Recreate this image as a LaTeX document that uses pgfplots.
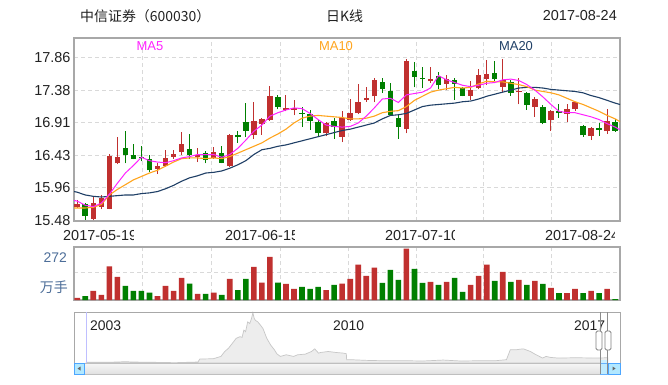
\documentclass[border=0pt]{standalone}
\usepackage{pgfplots}
\pgfplotsset{compat=1.18}
\usepackage{pgfplotstable}
\usepackage{fontspec}
\setmainfont{Liberation Sans}
\newfontfamily\cjk{Noto Sans CJK SC}
\definecolor{cRed}{HTML}{C0302F}
\definecolor{cGreen}{HTML}{007F00}
\definecolor{ma5c}{HTML}{FF22FF}
\definecolor{ma10c}{HTML}{FFA51E}
\definecolor{ma20c}{HTML}{1F3F66}
\definecolor{gridc}{HTML}{D9D9D9}
\definecolor{framec}{HTML}{A8A8A8}
\definecolor{volc}{HTML}{4D6E99}
\definecolor{txt}{HTML}{222222}

\pgfplotstableread{
x o h l c
0 15.67 15.77 15.66 15.72
2 15.50 15.84 15.48 15.73
3 15.68 15.85 15.64 15.80
4 15.65 16.45 15.64 16.42
5 16.31 16.70 16.30 16.41
10 16.23 16.32 16.16 16.27
11 16.27 16.50 16.26 16.39
12 16.41 16.50 16.38 16.45
13 16.48 16.77 16.44 16.60
15 16.41 16.53 16.33 16.44
17 16.39 16.55 16.38 16.47
19 16.27 16.74 16.26 16.73
22 16.72 17.21 16.67 16.93
23 16.89 16.98 16.73 16.96
24 16.95 17.44 16.93 17.30
26 17.09 17.31 17.07 17.12
27 17.09 17.23 17.01 17.12
31 16.75 16.92 16.71 16.90
33 16.70 17.08 16.62 16.98
34 16.95 17.25 16.93 17.04
35 17.04 17.47 17.03 17.20
36 17.23 17.43 17.21 17.27
37 17.29 17.56 17.20 17.53
41 16.81 17.83 16.75 17.81
44 17.51 17.72 17.49 17.54
46 17.47 17.60 17.38 17.54
49 17.30 17.51 17.24 17.38
50 17.41 17.69 17.39 17.60
51 17.54 17.82 17.46 17.62
53 17.43 17.83 17.35 17.53
55 17.35 17.55 17.17 17.37
57 17.13 17.28 16.99 17.25
59 16.94 17.09 16.79 17.08
61 17.03 17.17 16.92 17.11
62 17.10 17.21 17.08 17.20
64 16.71 16.84 16.65 16.83
66 16.78 17.11 16.74 16.93
}\upT

\pgfplotstableread{
x o h l c
1 15.72 15.73 15.49 15.54
6 16.54 16.79 16.31 16.44
7 16.44 16.59 16.37 16.38
8 16.41 16.57 16.34 16.40
9 16.38 16.43 16.18 16.21
14 16.52 16.74 16.38 16.44
16 16.46 16.49 16.31 16.36
18 16.46 16.57 16.31 16.32
20 16.72 16.79 16.61 16.69
21 16.92 17.19 16.69 16.79
25 17.28 17.31 17.10 17.13
28 17.05 17.14 16.84 17.04
29 17.03 17.09 16.80 16.93
30 16.92 16.95 16.69 16.75
32 16.93 16.97 16.67 16.84
38 17.50 17.56 17.34 17.40
39 17.36 17.48 17.00 17.01
40 16.97 17.03 16.67 16.84
42 17.66 17.79 17.42 17.57
43 17.56 17.72 17.41 17.55
45 17.58 17.64 17.40 17.45
47 17.53 17.55 17.24 17.47
48 17.41 17.42 17.29 17.30
52 17.63 17.81 17.51 17.54
54 17.50 17.53 17.30 17.34
56 17.34 17.35 17.09 17.16
58 17.13 17.16 16.88 16.90
60 17.08 17.18 16.98 17.04
63 16.86 16.87 16.70 16.72
65 16.82 16.90 16.71 16.80
67 16.92 16.96 16.77 16.79
}\downT

\pgfplotstableread{
x a b c
-0.4 15.77 15.66 15.90
0 15.76 15.66 15.89
1 15.70 15.66 15.85
2 15.68 15.67 15.83
3 15.73 15.71 15.82
4 15.86 15.85 15.83
5 16.02 15.93 15.84
6 16.17 16.00 15.85
7 16.28 16.07 15.85
8 16.40 16.12 15.87
9 16.35 16.17 15.88
10 16.33 16.21 15.90
11 16.32 16.27 15.94
12 16.35 16.33 15.99
13 16.39 16.38 16.05
14 16.41 16.39 16.10
15 16.44 16.39 16.13
16 16.44 16.38 16.17
17 16.44 16.39 16.18
18 16.40 16.38 16.20
19 16.44 16.41 16.24
20 16.53 16.46 16.29
21 16.65 16.51 16.35
22 16.78 16.56 16.44
23 16.87 16.61 16.51
24 17.00 16.68 16.53
25 17.05 16.74 16.56
26 17.09 16.81 16.58
27 17.12 16.90 16.61
28 17.11 16.97 16.64
29 17.04 17.00 16.67
30 16.95 17.01 16.70
31 16.87 17.00 16.73
32 16.85 16.99 16.76
33 16.84 16.98 16.79
34 16.85 16.96 16.81
35 16.90 16.96 16.84
36 17.00 16.97 16.87
37 17.12 17.00 16.90
38 17.25 17.05 16.96
39 17.26 17.07 17.01
40 17.20 17.08 17.02
41 17.31 17.14 17.04
42 17.33 17.23 17.09
43 17.35 17.29 17.14
44 17.41 17.35 17.16
45 17.59 17.38 17.17
46 17.53 17.40 17.18
47 17.49 17.42 17.19
48 17.45 17.41 17.21
49 17.43 17.42 17.22
50 17.45 17.47 17.25
51 17.48 17.51 17.29
52 17.49 17.50 17.32
53 17.53 17.50 17.35
54 17.54 17.48 17.38
55 17.52 17.46 17.41
56 17.46 17.43 17.42
57 17.38 17.38 17.42
58 17.28 17.36 17.41
59 17.17 17.34 17.39
60 17.07 17.31 17.38
61 17.05 17.26 17.37
62 17.05 17.21 17.36
63 17.02 17.17 17.34
64 16.99 17.12 17.30
65 16.95 17.07 17.27
66 16.89 17.01 17.23
67 16.84 16.96 17.19
67.6 16.80 16.92 17.17
}\maT

\pgfplotstableread{
x v
0 11
2 48
3 27
4 178
5 123
10 21
11 75
12 48
13 117
15 32
17 39
19 112
22 176
23 92
24 229
26 85
27 59
31 53
33 87
34 112
35 187
36 128
37 171
41 272
44 96
46 96
49 80
50 128
51 187
53 149
55 107
57 101
59 64
61 37
62 59
64 48
66 59
}\volUp

\pgfplotstableread{
x v
1 21
6 75
7 48
8 48
9 39
14 87
16 32
18 27
20 53
21 112
25 92
28 69
29 59
30 69
32 80
38 91
39 160
40 107
42 165
43 91
45 80
47 117
48 43
52 101
54 96
56 80
58 85
60 37
63 37
65 37
67 5
}\volDown

\pgfplotstableread{
t h
2002.51 2
2003.00 2
2003.41 3
2003.63 4
2003.85 3
2004.52 2
2005.07 1
2005.73 3
2005.78 12
2006.17 13
2006.39 20
2006.50 35
2006.61 45
2006.72 60
2006.83 75
2006.94 80
2007.00 78
2007.05 100
2007.10 95
2007.16 125
2007.22 120
2007.27 135
2007.31 153
2007.35 135
2007.38 130
2007.45 125
2007.49 120
2007.55 112
2007.60 105
2007.71 75
2007.82 55
2007.93 40
2008.00 28
2008.10 20
2008.27 25
2008.48 20
2008.60 25
2008.82 27
2009.00 35
2009.09 43
2009.20 30
2009.26 32
2009.48 35
2009.70 32
2009.92 30
2010.00 28
2010.01 10
2010.14 10
2010.58 8
2011.00 7
2011.68 7
2012.20 6
2012.79 9
2013.30 6
2013.89 7
2014.30 7
2014.61 10
2014.72 40
2014.88 40
2015.00 42
2015.10 43
2015.30 35
2015.43 27
2015.65 15
2015.75 20
2015.88 17
2016.10 15
2016.60 16
2017.20 15
2017.53 16
}\navT

\begin{document}
\begin{tikzpicture}[x=1bp,y=1bp]
\path[use as bounding box, fill=white] (0,0) rectangle (668,384);

% ---------- title row
\node[anchor=west, inner sep=0, text=txt, font=\cjk\fontsize{14}{14}\selectfont] at (80,368) {中信证券（600030）};
\node[anchor=west, inner sep=0, text=txt, font=\cjk\fontsize{14}{14}\selectfont] at (326,368) {日K线};
\node[anchor=east, inner sep=0, text=txt, font=\fontsize{14.5}{14.5}\selectfont] at (617,368) {2017-08-24};

% ---------- main candlestick chart
\begin{axis}[
  at={(74bp,163bp)}, anchor=south west,
  width=546bp, height=183bp, scale only axis,
  xmin=-0.4, xmax=67.6, ymin=15.47, ymax=18.14,
  axis line style={draw=framec, line width=1.3bp},
  major tick length=0pt,
  xtick={8.19,16.73,25.26,33.73,42.20,50.66,59.13}, xticklabels={},
  ytick={15.48,15.96,16.43,16.91,17.38,17.86},
  yticklabels={15.48,15.96,16.43,16.91,17.38,17.86},
  yticklabel style={font=\fontsize{14.5}{14.5}\selectfont, text=txt, xshift=0bp},
  grid=major,
  major grid style={draw=gridc, line width=1bp, dash pattern=on 4bp off 3bp},
  clip=true,
]
% wicks
\addplot[draw=none, mark=none, forget plot,
  error bars/.cd, y dir=plus, y explicit, error mark=none,
  error bar style={draw=cRed, line width=1bp}]
  table[x=x, y=l, y error expr=\thisrow{h}-\thisrow{l}] {\upT};
\addplot[draw=none, mark=none, forget plot,
  error bars/.cd, y dir=plus, y explicit, error mark=none,
  error bar style={draw=cGreen, line width=1bp}]
  table[x=x, y=l, y error expr=\thisrow{h}-\thisrow{l}] {\downT};
% bodies
\addplot[draw=none, mark=none, forget plot,
  error bars/.cd, y dir=plus, y explicit, error mark=none,
  error bar style={draw=cRed, line width=5.5bp}]
  table[x=x, y=o, y error expr=\thisrow{c}-\thisrow{o}] {\upT};
\addplot[draw=none, mark=none, forget plot,
  error bars/.cd, y dir=plus, y explicit, error mark=none,
  error bar style={draw=cGreen, line width=5.5bp}]
  table[x=x, y=c, y error expr=\thisrow{o}-\thisrow{c}] {\downT};
% moving averages
\addplot[draw=ma20c, line width=1.1bp, no marks] table[x=x, y=c] {\maT};
\addplot[draw=ma10c, line width=1.1bp, no marks] table[x=x, y=b] {\maT};
\addplot[draw=ma5c, line width=1bp, no marks] table[x=x, y=a] {\maT};
\end{axis}

\node[text=ma5c, font=\fontsize{13}{13}\selectfont] at (150,338) {MA5};
\node[text=ma10c, font=\fontsize{13}{13}\selectfont] at (336,338) {MA10};
\node[text=ma20c, font=\fontsize{13}{13}\selectfont] at (516,338) {MA20};

% date labels (clipped like the original)
\begin{scope}
\clip (63,140) rectangle (133,157);
\node[anchor=west, inner sep=0, text=txt, font=\fontsize{14.5}{14.5}\selectfont] at (63,148) {2017-05-19};
\end{scope}
\begin{scope}
\clip (225,140) rectangle (294,157);
\node[anchor=west, inner sep=0, text=txt, font=\fontsize{14.5}{14.5}\selectfont] at (225,148) {2017-06-15};
\end{scope}
\begin{scope}
\clip (385,140) rectangle (454,157);
\node[anchor=west, inner sep=0, text=txt, font=\fontsize{14.5}{14.5}\selectfont] at (385,148) {2017-07-10};
\end{scope}
\begin{scope}
\clip (545,140) rectangle (614,157);
\node[anchor=west, inner sep=0, text=txt, font=\fontsize{14.5}{14.5}\selectfont] at (545,148) {2017-08-24};
\end{scope}

% ---------- volume chart
\begin{axis}[
  at={(74bp,84bp)}, anchor=south west,
  width=546bp, height=53bp, scale only axis,
  xmin=-0.4, xmax=67.6, ymin=0, ymax=281,
  enlargelimits=false,
  axis line style={draw=framec, line width=1.3bp},
  major tick length=0pt,
  xtick={8.19,16.73,25.26,33.73,42.20,50.66,59.13}, xticklabels={},
  ytick={148}, yticklabels={},
  grid=major,
  major grid style={draw=gridc, line width=1bp, dash pattern=on 4bp off 3bp},
]
\addplot[ybar, bar width=5.6bp, bar shift=0pt, fill=cRed, draw=none] table[x=x, y=v] {\volUp};
\addplot[ybar, bar width=5.6bp, bar shift=0pt, fill=cGreen, draw=none] table[x=x, y=v] {\volDown};
\end{axis}
\node[anchor=east, inner sep=0, text=volc, font=\fontsize{14}{14}\selectfont] at (67,126) {272};
\node[anchor=east, inner sep=0, text=volc, font=\cjk\fontsize{14}{14}\selectfont] at (68,97) {万手};

% ---------- navigator
\begin{axis}[
  at={(74bp,21bp)}, anchor=south west,
  width=546bp, height=51bp, scale only axis,
  xmin=2002.16, xmax=2017.88, ymin=0, ymax=155,
  axis lines=none,
  xtick={2010}, ytick=\empty, xticklabels={},
  xmajorgrids,
  major grid style={draw=black!25, line width=0.8bp, dash pattern=on 4bp off 3bp},
  clip=false,
]
\addplot[fill=black!7, draw=black!22, line width=0.7bp] table[x=t, y=h] {\navT} \closedcycle;
\end{axis}
\draw[draw=framec, line width=1bp] (74,72) rectangle (620,10);
\draw[draw=blue!25, line width=0.8bp] (86,72) -- (86,21);
\node[anchor=west, inner sep=0, text=txt, font=\fontsize{14}{14}\selectfont] at (90,58) {2003};
\node[anchor=west, inner sep=0, text=txt, font=\fontsize{14}{14}\selectfont] at (333,58) {2010};
\node[anchor=west, inner sep=0, text=txt, font=\fontsize{14}{14}\selectfont] at (574,58) {2017};
% scrollbar
\shade[top color=black!3, bottom color=black!12] (84,10) rectangle (608,21);
\draw[draw=black!25, line width=0.6bp] (84,10) rectangle (608,21);
\fill[fill=blue!30!cyan!25] (600,10) rectangle (608,21);
\draw[draw=blue!50!cyan!60, line width=0.6bp] (600,10) rectangle (608,21);
\fill[fill=blue!30!cyan!30] (74,10) rectangle (84,21);
\draw[draw=blue!50!cyan!70, line width=0.6bp] (74,10) rectangle (84,21);
\fill[black!60] (77.5,15.5) -- (80.5,13.5) -- (80.5,17.5) -- cycle;
\fill[fill=blue!30!cyan!30] (608,10) rectangle (620,21);
\draw[draw=blue!50!cyan!70, line width=0.6bp] (608,10) rectangle (620,21);
\fill[black!60] (615.5,15.5) -- (612.5,13.5) -- (612.5,17.5) -- cycle;
\fill[fill=blue!30!cyan!20] (600,21) rectangle (607,24);
\draw[draw=black!45, line width=0.8bp] (600,72) -- (600,10);
\draw[draw=black!45, line width=0.8bp] (607,72) -- (607,10);
\draw[fill=white, draw=black!50, line width=0.8bp, rounded corners=1.5bp] (596,34) rectangle (602,53);
\draw[fill=white, draw=black!50, line width=0.8bp, rounded corners=1.5bp] (605,34) rectangle (611,53);
\end{tikzpicture}
\end{document}
